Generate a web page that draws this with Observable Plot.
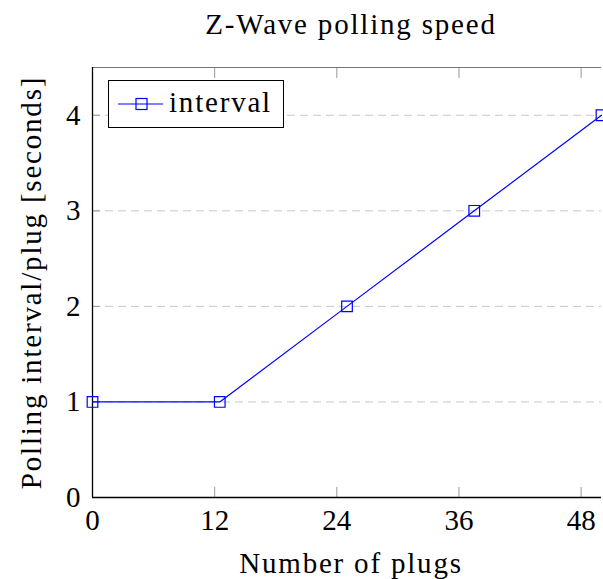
<!DOCTYPE html>
<html>
<head>
<meta charset="utf-8">
<script src="https://cdn.jsdelivr.net/npm/d3@7"></script>
<script src="https://cdn.jsdelivr.net/npm/@observablehq/plot@0.6"></script>
<style>
  body { margin: 0; background: #fff; }
  #wrap { position: relative; width: 603px; height: 579px; overflow: hidden; font-family: "Liberation Serif", serif; }
  #legend { position: absolute; left: 108px; top: 80px; width: 174px; height: 46px; border: 1px solid #000; background: #fff; }
  #legend svg { position: absolute; left: 0; top: 0; }
  #legend span { position: absolute; left: 60px; top: 3px; font-size: 29px; line-height: 36px; color: #000; letter-spacing: 1.8px; }
  text.spaced { letter-spacing: 1.8px; }
</style>
</head>
<body>
<div id="wrap"></div>
<script>
const title = "Z-Wave polling speed";
const xLabel = "Number of plugs";
const yLabel = "Polling interval/plug [seconds]";
const seriesName = "interval";
const plugs = [0, 12.5, 25, 37.5, 50];
const interval = [1, 1, 2, 3, 4];
const xTicks = [0, 12, 24, 36, 48];
const yTicks = [0, 1, 2, 3, 4];
const gridTicks = [1, 2, 3, 4];

const data = plugs.map((p, i) => ({plugs: p, interval: interval[i]}));
const blue = "#0000ff";

const chart = Plot.plot({
  width: 603,
  height: 579,
  marginLeft: 92,
  marginRight: 2,
  marginTop: 67,
  marginBottom: 82,
  style: {fontFamily: "Liberation Serif, serif", background: "#fff"},
  x: {domain: [0, 50]},
  y: {domain: [0, 4.5]},
  marks: [
    Plot.ruleY(gridTicks, {stroke: "#c8c8c8", strokeDasharray: "8,5", strokeWidth: 1}),
    Plot.axisX(xTicks, {anchor: "bottom", tickSize: -10, text: null, stroke: "#999", label: null}),
    Plot.axisX(xTicks, {anchor: "top", tickSize: -10, text: null, stroke: "#999", label: null}),
    Plot.axisY(yTicks, {anchor: "left", tickSize: -8, text: null, stroke: "#999", label: null}),
    Plot.axisX(xTicks, {anchor: "bottom", tickSize: 0, tickPadding: 12, fontSize: 29, fill: "#000", label: null, tickFormat: "d"}),
    Plot.axisY(yTicks, {anchor: "left", tickSize: 0, tickPadding: 12, fontSize: 29, fill: "#000", label: null, tickFormat: "d"}),
    Plot.ruleY([4.5], {stroke: "#777", strokeWidth: 1.2}),
    Plot.ruleY([0], {stroke: "#000", strokeWidth: 1.3}),
    Plot.ruleX([0], {stroke: "#000", strokeWidth: 1.3}),
    Plot.line(data, {x: "plugs", y: "interval", stroke: blue, strokeWidth: 1.2}),
    Plot.dot(data, {x: "plugs", y: "interval", symbol: "square", r: 6, stroke: blue, strokeWidth: 1.2, fill: "none"}),
    Plot.text([title], {frameAnchor: "top", dx: 4, dy: -34, lineAnchor: "bottom", fontSize: 29, fill: "#000", className: "spaced"}),
    Plot.text([xLabel], {frameAnchor: "bottom", dx: 4, dy: 75, lineAnchor: "bottom", fontSize: 29, fill: "#000", className: "spaced"}),
    Plot.text([yLabel], {frameAnchor: "left", dx: -52, rotate: -90, textAnchor: "middle", lineAnchor: "bottom", fontSize: 29, fill: "#000", className: "spaced"})
  ]
});
const wrap = document.getElementById("wrap");
wrap.appendChild(chart);
// ensure letter spacing applies to label texts
d3.select(chart).selectAll("g.spaced text, text.spaced").style("letter-spacing", "1.8px");

const legend = document.createElement("div");
legend.id = "legend";
legend.innerHTML = `<svg width="60" height="46"><line x1="9" y1="23" x2="54" y2="23" stroke="${blue}" stroke-width="1.2"/><rect x="27" y="17.5" width="11" height="11" fill="none" stroke="${blue}" stroke-width="1.2"/></svg><span>${seriesName}</span>`;
wrap.appendChild(legend);
</script>
</body>
</html>
